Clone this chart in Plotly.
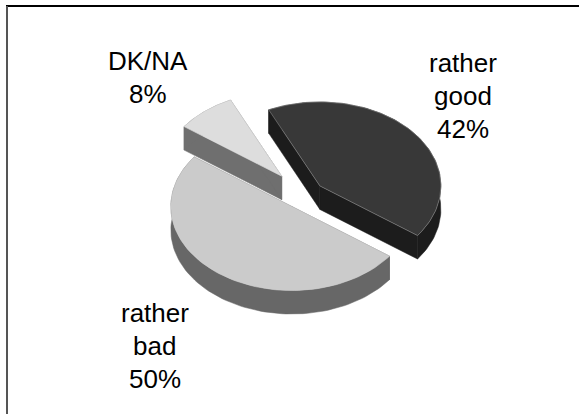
import numpy as np
import plotly.graph_objects as go

labels = ["rather good", "rather bad", "DK/NA"]
shares = [42, 50, 8]
top_colors = ["#383838", "#cbcbcb", "#dddddd"]
side_colors = ["#1c1c1c", "#676767", "#6f6f6f"]
edge_colors = ["#8a8a8a", "#cbcbcb", "#dddddd"]
explode = [0.17, 0.17, 0.29]
draw_order = [1, 2, 0]

START_DEG = -25.0
RX, RY, DEPTH = 121.0, 84.0, 23.5
CX, CY = 304.0, 195.0

label_lines = [
    (["rather", "good", "42%"], 463, 63),
    (["rather", "bad", "50%"], 154.5, 312.5),
    (["DK/NA", "8%"], 148, 60.5),
]
LINE_STEP = 33


def pt(theta_deg, cx, cy):
    t = np.radians(theta_deg)
    return cx + RX * np.sin(t), cy - RY * np.cos(t)


def poly(fig, xs, ys, fill, line=None, width=0):
    fig.add_trace(go.Scatter(
        x=list(xs) + [xs[0]], y=list(ys) + [ys[0]], mode="lines", fill="toself",
        fillcolor=fill, line=dict(color=line or fill, width=width or 0.5),
        hoverinfo="skip", showlegend=False,
    ))


fig = go.Figure()
edges = np.cumsum([0] + shares) / sum(shares) * 360 + START_DEG
for i in draw_order:
    a0, a1 = edges[i], edges[i + 1]
    mid = np.radians((a0 + a1) / 2)
    cx = CX + explode[i] * RX * np.sin(mid)
    cy = CY - explode[i] * RY * np.cos(mid)
    arc = np.linspace(a0, a1, 90)
    ax, ay = pt(arc, cx, cy)
    # cut faces
    for a_edge in (a0, a1):
        ex, ey = pt(a_edge, cx, cy)
        poly(fig, [cx, ex, ex, cx], [cy, ey, ey + DEPTH, cy + DEPTH], side_colors[i])
    # rim
    poly(fig, np.r_[ax, ax[::-1]], np.r_[ay, ay[::-1] + DEPTH], side_colors[i])
    # top surface
    poly(fig, np.r_[cx, ax], np.r_[cy, ay], top_colors[i], edge_colors[i], 0.6)

annotations = []
for lines, x, y0 in label_lines:
    for k, text in enumerate(lines):
        annotations.append(dict(
            x=x, y=y0 + k * LINE_STEP, text=text, showarrow=False,
            xanchor="center", yanchor="middle",
            font=dict(family="Liberation Sans", size=26, color="black"),
        ))

fig.update_layout(
    width=579, height=414, margin=dict(l=0, r=0, t=0, b=0),
    paper_bgcolor="white", plot_bgcolor="white", showlegend=False,
    xaxis=dict(range=[0, 579], visible=False, fixedrange=True),
    yaxis=dict(range=[414, 0], visible=False, fixedrange=True),
    annotations=annotations,
    shapes=[
        dict(type="line", x0=6, x1=579, y0=6, y1=6, line=dict(color="black", width=2)),
        dict(type="line", x0=7, x1=7, y0=6, y1=414, line=dict(color="#555555", width=2)),
    ],
)
fig.write_html(
    "out.html",
    config={"displayModeBar": False},
    post_script="document.body.style.margin='0';document.body.style.overflow='hidden';",
)
